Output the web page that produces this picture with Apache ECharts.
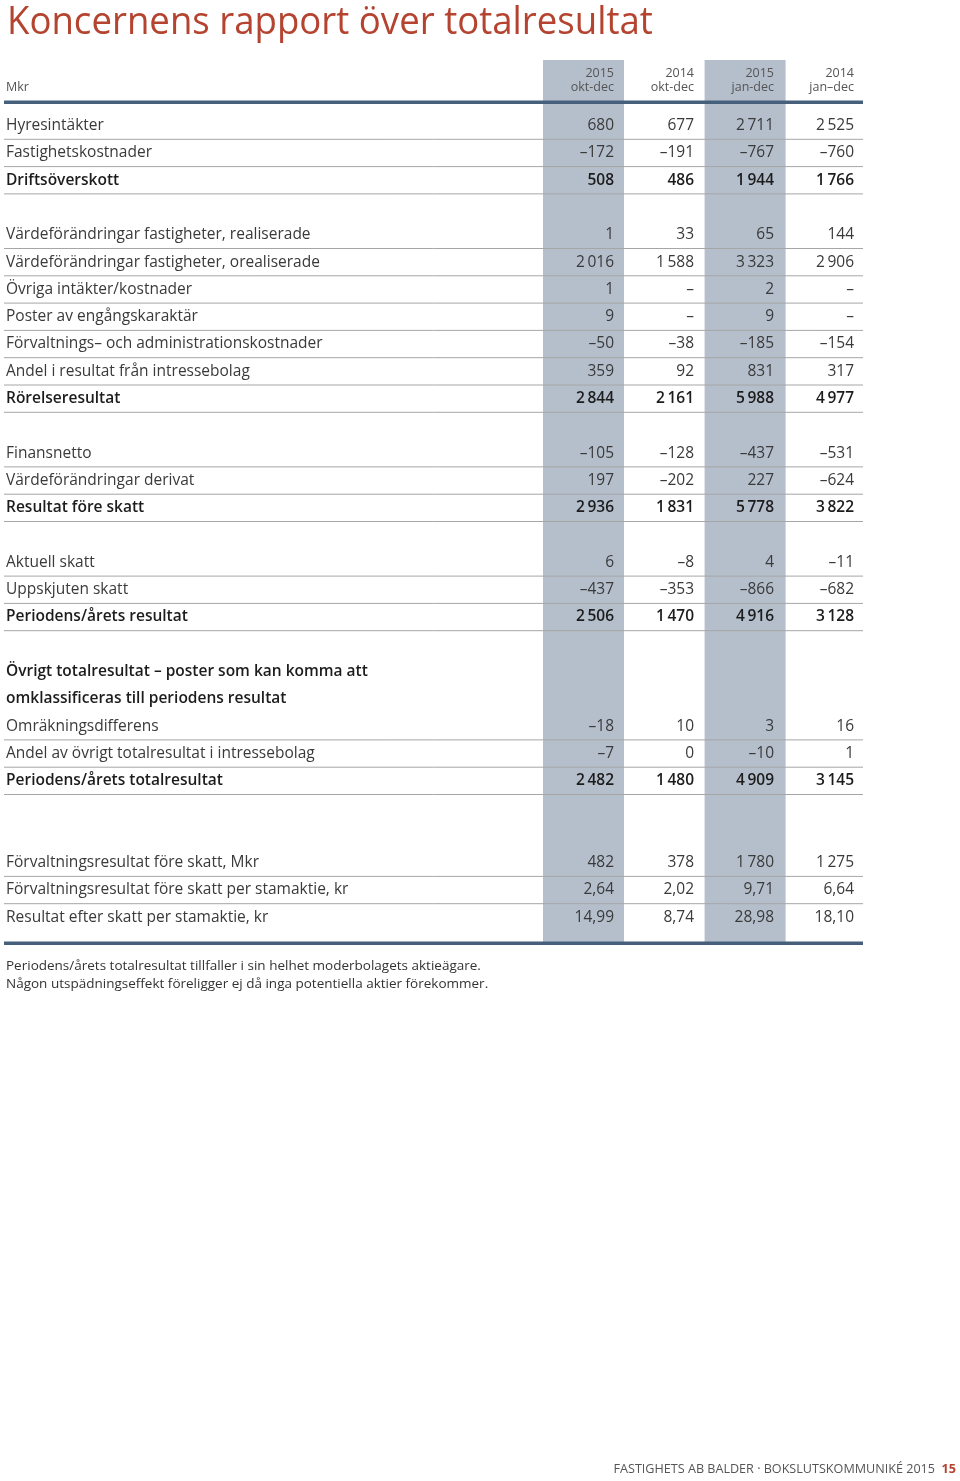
<!DOCTYPE html>
<html>
<head>
<meta charset="utf-8">
<script src="https://cdn.jsdelivr.net/npm/echarts@6/dist/echarts.min.js"></script>
<style>
  html, body { margin: 0; padding: 0; background: #fff; }
  #chart { width: 960px; height: 1481px; }
</style>
</head>
<body>
<div id="chart"></div>
<script>
// column headers
var colYears = ['2015', '2014', '2015', '2014'];
var colPeriods = ['okt-dec', 'okt-dec', 'jan-dec', 'jan\u2013dec'];

// row labels and type (item, total, heading, gap, perShare)
var rowLabels = [
  'Hyresintäkter', 'Fastighetskostnader', 'Driftsöverskott', '',
  'Värdeförändringar fastigheter, realiserade', 'Värdeförändringar fastigheter, orealiserade',
  'Övriga intäkter/kostnader', 'Poster av engångskaraktär',
  'Förvaltnings\u2013 och administrationskostnader', 'Andel i resultat från intressebolag',
  'Rörelseresultat', '',
  'Finansnetto', 'Värdeförändringar derivat', 'Resultat före skatt', '',
  'Aktuell skatt', 'Uppskjuten skatt', 'Periodens/årets resultat', '',
  'Övrigt totalresultat \u2013 poster som kan komma att', 'omklassificeras till periodens resultat',
  'Omräkningsdifferens', 'Andel av övrigt totalresultat i intressebolag',
  'Periodens/årets totalresultat', '', '',
  'Förvaltningsresultat före skatt, Mkr', 'Förvaltningsresultat före skatt per stamaktie, kr',
  'Resultat efter skatt per stamaktie, kr'
];
var rowTypes = [
  'item', 'item', 'total', 'gap',
  'item', 'item', 'item', 'item', 'item', 'item', 'total', 'gap',
  'item', 'item', 'total', 'gap',
  'item', 'item', 'total', 'gap',
  'heading', 'heading', 'item', 'item', 'total', 'gap', 'gap',
  'item', 'perShare', 'perShare'
];

// values, Mkr (null = dash, '' = no value)
var okt2015 = [680, -172, 508, '', 1, 2016, 1, 9, -50, 359, 2844, '', -105, 197, 2936, '', 6, -437, 2506, '', '', '', -18, -7, 2482, '', '', 482, 2.64, 14.99];
var okt2014 = [677, -191, 486, '', 33, 1588, null, null, -38, 92, 2161, '', -128, -202, 1831, '', -8, -353, 1470, '', '', '', 10, 0, 1480, '', '', 378, 2.02, 8.74];
var jan2015 = [2711, -767, 1944, '', 65, 3323, 2, 9, -185, 831, 5988, '', -437, 227, 5778, '', 4, -866, 4916, '', '', '', 3, -10, 4909, '', '', 1780, 9.71, 28.98];
var jan2014 = [2525, -760, 1766, '', 144, 2906, null, null, -154, 317, 4977, '', -531, -624, 3822, '', -11, -682, 3128, '', '', '', 16, 1, 3145, '', '', 1275, 6.64, 18.10];
var columns = [okt2015, okt2014, jan2015, jan2014];

var FONT = '"Open Sans", sans-serif';
var TEXT = '#3a3a3a';
var BOLD = '#1c1c1c';
var BAND = '#b5bfcc';
var RULE = '#a6a6a6';
var DARK = '#46607c';
var RED = '#b4432f';

function fmt(v, type) {
  if (v === '') return '';
  if (v === null) return '\u2013';
  var neg = v < 0;
  var a = Math.abs(v);
  var s;
  if (type === 'perShare') {
    s = a.toFixed(2).replace('.', ',');
  } else {
    s = String(Math.round(a)).replace(/\B(?=(\d{3})+(?!\d))/g, '\u2009');
  }
  return (neg ? '\u2013' : '') + s;
}

var myChart = echarts.init(document.getElementById('chart'));

var option = {
  animation: false,
  grid: { left: 543, right: 97, top: 112, bottom: 550 },
  xAxis: {
    type: 'category',
    data: ['0', '1', '2', '3'],
    show: false
  },
  yAxis: {
    type: 'category',
    inverse: true,
    data: rowLabels.map(function (l, i) { return String(i); }),
    axisLine: { show: false },
    axisTick: { show: false },
    splitLine: { show: false },
    axisLabel: {
      interval: 0,
      align: 'left',
      margin: 537,
      fontFamily: FONT,
      fontSize: 15.5,
      color: TEXT,
      formatter: function (v, i) {
        var t = rowTypes[i];
        if (t === 'total' || t === 'heading') return '{b|' + rowLabels[i] + '}';
        return rowLabels[i];
      },
      rich: {
        b: { fontFamily: FONT, fontSize: 15.5, fontWeight: 600, color: BOLD }
      }
    }
  },
  graphic: [
    {
      type: 'text', left: 7, top: 4, z: 10, scaleX: 0.963,
      style: { text: 'Koncernens rapport över totalresultat', fill: RED, font: '38px ' + FONT }
    },
    {
      type: 'text', left: 6, top: 81, z: 10,
      style: { text: 'Mkr', fill: '#555', font: '12.5px ' + FONT }
    },
    {
      type: 'rect', z: 10, shape: { x: 4, y: 100.5, width: 859, height: 3.5 }, style: { fill: DARK }
    },
    {
      type: 'rect', z: 10, shape: { x: 4, y: 941.5, width: 859, height: 3.5 }, style: { fill: DARK }
    },
    {
      type: 'text', left: 6, top: 957, z: 10,
      style: {
        text: 'Periodens/årets totalresultat tillfaller i sin helhet moderbolagets aktieägare.\nNågon utspädningseffekt föreligger ej då inga potentiella aktier förekommer.',
        fill: '#333', font: '13.5px ' + FONT, lineHeight: 18
      }
    },
    {
      type: 'text', right: 25, top: 1463, z: 10,
      style: { text: 'FASTIGHETS AB BALDER · BOKSLUTSKOMMUNIKÉ 2015', fill: '#555', font: '12.6px ' + FONT }
    },
    {
      type: 'text', right: 4, top: 1463, z: 10,
      style: { text: '15', fill: RED, font: 'bold 12.6px ' + FONT }
    }
  ],
  series: [
    {
      type: 'custom',
      name: 'columns',
      coordinateSystem: 'cartesian2d',
      clip: false,
      z: 1,
      data: colYears.map(function (y, c) { return [c, 0]; }),
      encode: { x: 0, y: 1 },
      renderItem: function (params, api) {
        var c = api.value(0);
        var cs = params.coordSys;
        var cx = api.coord([c, 0])[0];
        var w = api.size([1, 0])[0];
        var children = [];
        if (c % 2 === 0) {
          children.push({
            type: 'rect',
            shape: { x: cx - w / 2 + c * 0.8, y: cs.y - 52, width: w + 1, height: cs.height + 66 },
            style: { fill: BAND }
          });
        }
        children.push({
          type: 'text',
          style: {
            text: colYears[c] + '\n' + colPeriods[c],
            x: cx + w / 2 - 9, y: cs.y - 46,
            align: 'right', verticalAlign: 'top',
            fill: '#555', font: '12.5px ' + FONT, lineHeight: 14.5
          }
        });
        return { type: 'group', children: children };
      }
    },
    {
      type: 'custom',
      name: 'rows',
      coordinateSystem: 'cartesian2d',
      clip: false,
      z: 2,
      data: rowLabels.map(function (l, i) { return [0, i]; }),
      encode: { x: 0, y: 1 },
      renderItem: function (params, api) {
        var i = api.value(1);
        var t = rowTypes[i];
        var y = api.coord([0, i])[1];
        var w = api.size([1, 0])[0];
        var h = api.size([0, 1])[1];
        var children = [];
        if (t === 'gap' || t === 'heading') return { type: 'group', children: [] };
        var bold = t === 'total';
        for (var c = 0; c < columns.length; c++) {
          var cx = api.coord([c, i])[0];
          children.push({
            type: 'text',
            style: {
              text: fmt(columns[c][i], t),
              x: cx + w / 2 - 9, y: y,
              align: 'right', verticalAlign: 'middle',
              fill: bold ? BOLD : TEXT,
              font: (bold ? '600 ' : '') + '15.5px ' + FONT
            }
          });
        }
        if (i < rowLabels.length - 1) {
          children.push({
            type: 'line',
            shape: { x1: 4, y1: y + h / 2, x2: 863, y2: y + h / 2 },
            style: { stroke: RULE, lineWidth: 1 }
          });
        }
        return { type: 'group', children: children };
      }
    }
  ]
};
myChart.setOption(option, true);
</script>
</body>
</html>
